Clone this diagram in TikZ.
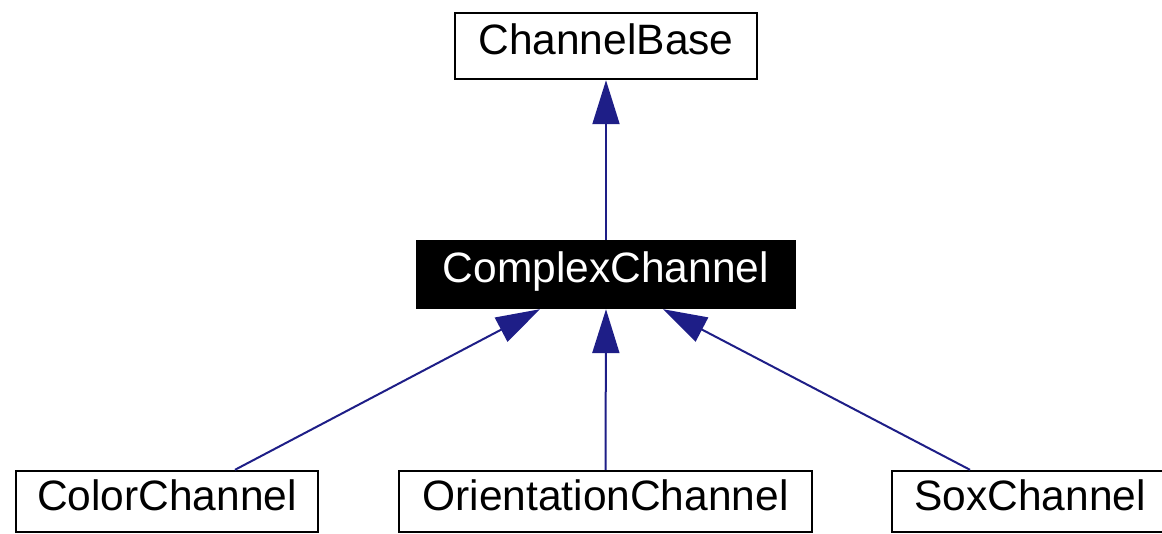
\documentclass[tikz,border=0pt]{standalone}
\usepackage{fontspec}
\setmainfont{Liberation Sans}
\usetikzlibrary{arrows.meta}
\definecolor{edgeblue}{RGB}{30,30,135}
\begin{document}
\begin{tikzpicture}[x=1pt,y=-1pt,
  classbox/.style={draw=black, line width=2.4pt, rectangle, inner sep=0pt,
    text height=31pt, text depth=14pt,
    font=\fontsize{42.5}{50}\selectfont},
  current/.style={classbox, fill=black, text=white},
  inherit/.style={draw=edgeblue, line width=2pt,
    -{Triangle[length=44pt,width=27pt]}}]
  \useasboundingbox (0,0) rectangle (1162,534);

  % class nodes
  \node[classbox, minimum width=302pt, minimum height=66pt] (base) at (606,46) {ChannelBase};
  \node[current, minimum width=378pt, minimum height=67pt] (cx) at (606,274.5) {ComplexChannel};
  \node[classbox, minimum width=302pt, minimum height=61pt] (color) at (167,501.5) {ColorChannel};
  \node[classbox, minimum width=413pt, minimum height=61pt] (orient) at (605.5,501.5) {OrientationChannel};
  \node[classbox, minimum width=276pt, minimum height=61pt] (sox) at (1030,501.5) {SoxChannel};

  % inheritance edges
  \draw[inherit] (cx.north) -- (base.south);
  \draw[inherit] (orient.north) -- (cx.south);
  \draw[inherit] ([xshift=68pt]color.north) -- ([xshift=-66pt]cx.south);
  \draw[inherit] ([xshift=-60pt]sox.north) -- ([xshift=57pt]cx.south);
\end{tikzpicture}
\end{document}
